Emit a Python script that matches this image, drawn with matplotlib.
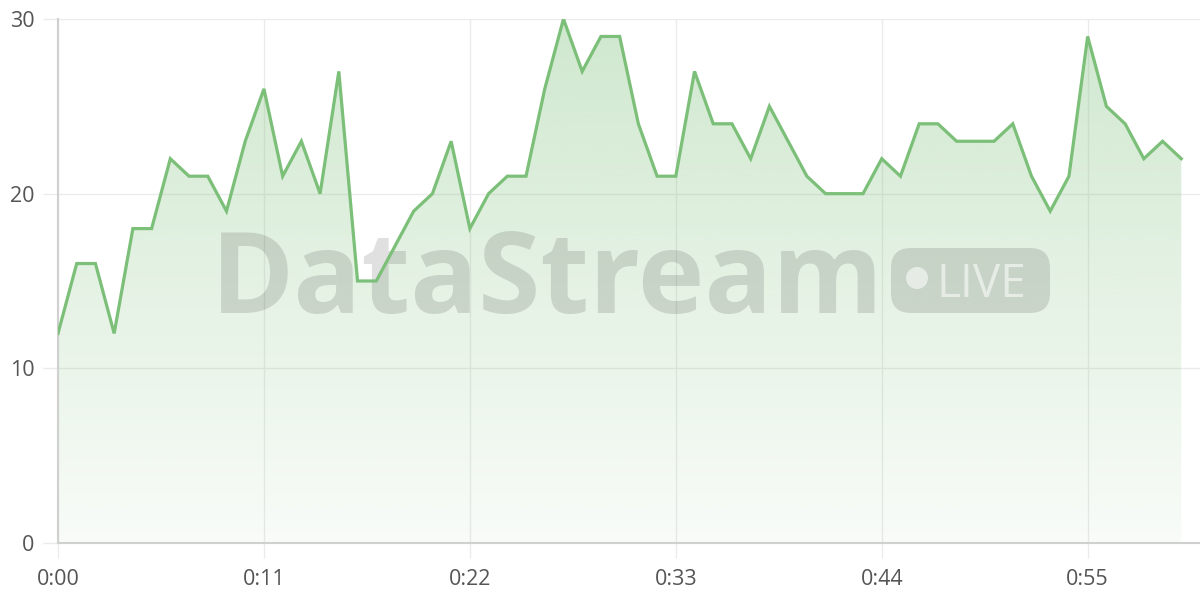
import matplotlib
matplotlib.use("Agg")
import matplotlib.pyplot as plt
import numpy as np
from matplotlib.patches import FancyBboxPatch, Circle

# one reading per second, 0:00 .. 1:00
seconds = list(range(61))
values = [12, 16, 16, 12, 18, 18, 22, 21, 21, 19,
          23, 26, 21, 23, 20, 27, 15, 15, 17, 19,
          20, 23, 18, 20, 21, 21, 26, 30, 27, 29,
          29, 24, 21, 21, 27, 24, 24, 22, 25, 23,
          21, 20, 20, 20, 22, 21, 24, 24, 23, 23,
          23, 24, 21, 19, 21, 29, 25, 24, 22, 23,
          22]
tick_secs = [0, 11, 22, 33, 44, 55]
tick_labels = [f"0:{s:02d}" for s in tick_secs]
y_ticks = [0, 10, 20, 30]

line_color = "#7bbf78"
grid_color = "#ebebeb"
spine_color = "#d0d0d0"
text_color = "#555555"
font = "Open Sans"

fig = plt.figure(figsize=(12, 6), dpi=100)
ax = fig.add_axes([58 / 1200, 57 / 600, 1142 / 1200, 524 / 600])

x = np.array(seconds)
y = np.array(values)

# gradient fill under the line
fill = ax.fill_between(x, y, 0, color="none", lw=0)
grad = np.linspace(0.36, 0.05, 256).reshape(-1, 1)
rgba = np.zeros((256, 1, 4))
rgba[..., :3] = matplotlib.colors.to_rgb(line_color)
rgba[..., 3] = grad
img = ax.imshow(rgba, extent=[0, 60, 0, 30], aspect="auto", origin="upper", zorder=1)
img.set_clip_path(fill.get_paths()[0], transform=ax.transData)

# watermark, sits between fill and line
ax.text(2.11, 2.87, "DataStream", transform=fig.dpi_scale_trans, fontsize=81,
        fontweight="bold", family=font, color="black", alpha=0.12,
        ha="left", va="baseline", zorder=2)
badge = FancyBboxPatch((8.91, 2.87), 1.59, 0.65, boxstyle="round,pad=0,rounding_size=0.2",
                       transform=fig.dpi_scale_trans, facecolor="black", alpha=0.12,
                       lw=0, zorder=2)
ax.add_patch(badge)
ax.add_patch(Circle((9.17, 3.22), 0.11, transform=fig.dpi_scale_trans,
                    facecolor="white", alpha=0.55, lw=0, zorder=2.1))
ax.text(9.37, 3.03, "LIVE", transform=fig.dpi_scale_trans, fontsize=33,
        family=font, color="white", alpha=0.55, ha="left", va="baseline", zorder=2.1)

ax.plot(x, y, color=line_color, lw=2.3, zorder=3, solid_joinstyle="miter")

ax.set_xlim(0, 61)
ax.set_ylim(0, 30)
ax.set_xticks(tick_secs)
ax.set_xticklabels(tick_labels)
ax.set_yticks(y_ticks)
ax.grid(True, color=grid_color, lw=1)
ax.set_axisbelow(True)

for side in ["top", "right"]:
    ax.spines[side].set_visible(False)
for side in ["left", "bottom"]:
    ax.spines[side].set_color(spine_color)
    ax.spines[side].set_linewidth(1.5)

ax.tick_params(axis="both", length=11, width=1, color=grid_color,
               labelsize=15.5, labelcolor=text_color)
ax.tick_params(axis="y", pad=6)
ax.tick_params(axis="x", pad=8)
for lab in ax.get_xticklabels() + ax.get_yticklabels():
    lab.set_family(font)

fig.savefig("out.png", dpi=100)
